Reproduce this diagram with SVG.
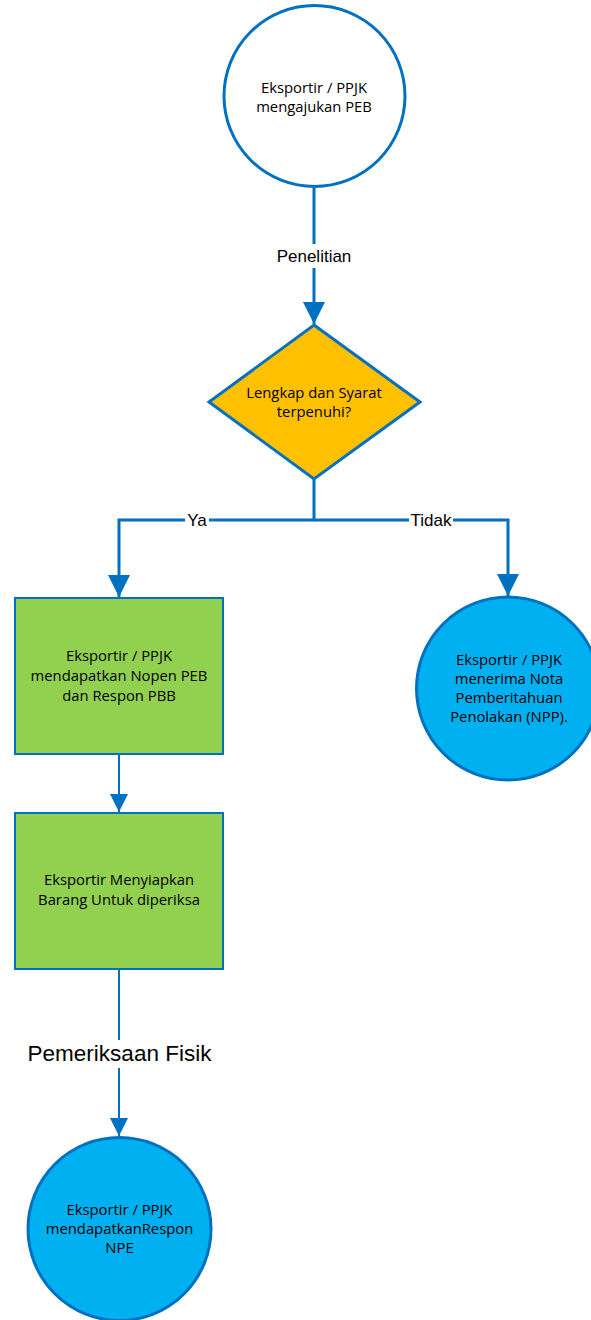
<svg xmlns="http://www.w3.org/2000/svg" width="591" height="1320" viewBox="0 0 591 1320">
<style>
.c{fill:none;stroke:#0070C0}
.w3{stroke-width:3}
.w2{stroke-width:2}
.t{font-family:"Open Sans","Liberation Sans",sans-serif;font-size:14.8px;fill:#000;text-anchor:middle}
.l{font-family:"Liberation Sans",Arial,sans-serif;font-size:17px;fill:#000;text-anchor:middle}
.bg{fill:#fff}
</style>
<defs>
<marker id="a1" markerUnits="userSpaceOnUse" markerWidth="22" markerHeight="22" refX="22" refY="11" orient="auto"><path d="M0,0 L22,11 L0,22 z" fill="#0070C0"/></marker>
<marker id="a2" markerUnits="userSpaceOnUse" markerWidth="18" markerHeight="18" refX="18" refY="9" orient="auto"><path d="M0,0 L18,9 L0,18 z" fill="#0070C0"/></marker>
</defs>
<g id="connectors">
<path class="c w3" d="M314,187 V324" marker-end="url(#a1)"/>
<rect class="bg" x="272" y="244" width="84" height="24"/>
<text class="l" x="314" y="262">Penelitian</text>
<path class="c w3" d="M314,479 V520 H119 V597" marker-end="url(#a1)"/>
<path class="c w3" d="M314,520 H508 V596" marker-end="url(#a1)"/>
<rect class="bg" x="185" y="510" width="24" height="20"/>
<text class="l" x="197" y="526">Ya</text>
<rect class="bg" x="409" y="510" width="44" height="20"/>
<text class="l" x="431" y="526">Tidak</text>
<path class="c w2" d="M119,754 V812" marker-end="url(#a2)"/>
<path class="c w2" d="M119,969 V1136" marker-end="url(#a2)"/>
<rect class="bg" x="20" y="1040" width="200" height="28"/>
<text class="l" x="119.5" y="1061" style="font-size:22.5px">Pemeriksaan Fisik</text>
</g>
<g id="start">
<circle cx="314.5" cy="96" r="90.5" fill="#fff" stroke="#0070C0" stroke-width="3"/>
<text class="t" x="314" y="93">Eksportir / PPJK</text>
<text class="t" x="314" y="112">mengajukan PEB</text>
</g>
<g id="decision">
<polygon points="314,325 420,402 314,479 209,402" fill="#FFC000" stroke="#0070C0" stroke-width="3"/>
<text class="t" x="314" y="398">Lengkap dan Syarat</text>
<text class="t" x="314" y="417">terpenuhi?</text>
</g>
<g id="nopen">
<rect x="15" y="598" width="208" height="156" fill="#92D050" stroke="#0070C0" stroke-width="2"/>
<text class="t" x="119" y="661">Eksportir / PPJK</text>
<text class="t" x="119" y="681">mendapatkan Nopen PEB</text>
<text class="t" x="119" y="701">dan Respon PBB</text>
</g>
<g id="npp">
<circle cx="508" cy="688.5" r="91.5" fill="#00B0F0" stroke="#0070C0" stroke-width="3"/>
<text class="t" x="509" y="665">Eksportir / PPJK</text>
<text class="t" x="509" y="684">menerima Nota</text>
<text class="t" x="509" y="703">Pemberitahuan</text>
<text class="t" x="509" y="722">Penolakan (NPP).</text>
</g>
<g id="siapkan">
<rect x="15" y="813" width="208" height="156" fill="#92D050" stroke="#0070C0" stroke-width="2"/>
<text class="t" x="119" y="885">Eksportir Menyiapkan</text>
<text class="t" x="119" y="905">Barang Untuk diperiksa</text>
</g>
<g id="npe">
<circle cx="119.5" cy="1229" r="91.5" fill="#00B0F0" stroke="#0070C0" stroke-width="3"/>
<text class="t" x="119.5" y="1215">Eksportir / PPJK</text>
<text class="t" x="119.5" y="1234">mendapatkanRespon</text>
<text class="t" x="119.5" y="1253">NPE</text>
</g>
</svg>
